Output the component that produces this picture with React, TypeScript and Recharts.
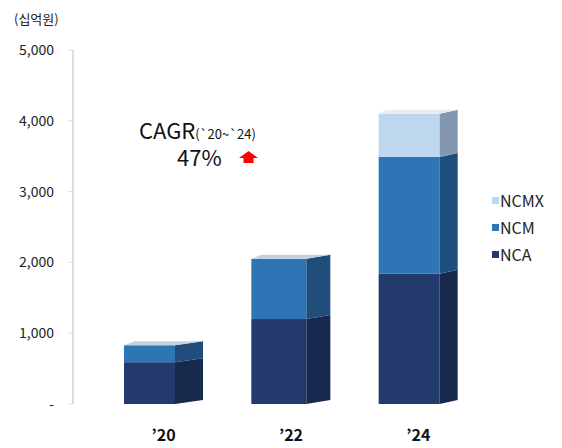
import React from "react";
import { BarChart, Bar, XAxis, YAxis } from "recharts";

// 연도별 양극재 출하 (십억원)
const years = ["’20", "’22", "’24"];
const nca = [590, 1200, 1840];
const ncm = [240, 850, 1650];
const ncmx = [0, 0, 610];
const yTicks = [0, 1000, 2000, 3000, 4000, 5000];

const data = years.map((year, i) => ({ year, NCA: nca[i], NCM: ncm[i], NCMX: ncmx[i] }));

const FONT = "'Noto Sans CJK KR', 'Noto Sans', sans-serif";
const STACK = ["NCA", "NCM", "NCMX"];

// front / side / top colours of each stacked block
const FACES: Record<string, { front: string; side: string; top: string }> = {
  NCA: { front: "#223a6c", side: "#172a4d", top: "#9aa8bf" },
  NCM: { front: "#2e75b6", side: "#1f4e7d", top: "#c6d0dd" },
  NCMX: { front: "#bdd7ee", side: "#8497b0", top: "#e8eef5" },
};

// side depth per column, narrower further right
const DEPTH = [28, 24, 18];
const SLANT = 4;

const LEGEND = [
  { name: "NCMX", color: FACES.NCMX.front },
  { name: "NCM", color: FACES.NCM.front },
  { name: "NCA", color: FACES.NCA.front },
];

function Block(props: any) {
  const { x, y, width, height, index, dataKey, payload } = props;
  if (!height || height <= 0) return null;
  const d = DEPTH[index] ?? 22;
  const fw = width - d;
  const face = FACES[dataKey];
  const isTop = STACK.slice(STACK.indexOf(dataKey) + 1).every((k) => !payload[k]);
  return (
    <g>
      <rect x={x} y={y} width={fw} height={height} fill={face.front} />
      <polygon
        points={`${x + fw},${y} ${x + width},${y - SLANT} ${x + width},${y + height - SLANT} ${x + fw},${y + height}`}
        fill={face.side}
      />
      {isTop && (
        <polygon
          points={`${x},${y} ${x + fw},${y} ${x + width},${y - SLANT} ${x + d * 0.4},${y - SLANT}`}
          fill={face.top}
        />
      )}
    </g>
  );
}

export default function App() {
  return (
    <div style={{ position: "absolute", left: 0, top: 0, width: 562, height: 448, background: "#fff" }}>
      <BarChart width={562} height={448} data={data} margin={{ top: 50, right: 53, bottom: 0, left: 0 }}>
        <YAxis
          domain={[0, 5000]}
          ticks={yTicks}
          width={73}
          axisLine={{ stroke: "#dcdcdc", strokeWidth: 2 }}
          tickLine={{ stroke: "#dcdcdc" }}
          tickSize={5}
          tickMargin={14}
          tick={{ fontSize: 14, fill: "#222", fontFamily: FONT }}
          tickFormatter={(v: number) => (v === 0 ? "-" : v.toLocaleString("en-US"))}
        />
        <XAxis
          dataKey="year"
          height={44}
          axisLine={false}
          tickLine={false}
          tickSize={0}
          tickMargin={26}
          padding={{ left: 27, right: 27 }}
          tick={{ fontSize: 16, fontWeight: 700, fill: "#111", fontFamily: FONT }}
        />
        <Bar dataKey="NCA" stackId="a" barSize={79} fill={FACES.NCA.front} shape={<Block />} isAnimationActive={false} />
        <Bar dataKey="NCM" stackId="a" barSize={79} fill={FACES.NCM.front} shape={<Block />} isAnimationActive={false} />
        <Bar dataKey="NCMX" stackId="a" barSize={79} fill={FACES.NCMX.front} shape={<Block />} isAnimationActive={false} />
      </BarChart>
      <svg
        width={562}
        height={448}
        style={{ position: "absolute", left: 0, top: 0, pointerEvents: "none" }}
        fontFamily={FONT}
      >
        <text x={14} y={24} fontSize={13} fill="#222">(십억원)</text>
        <text x={139} y={139} fontSize={22} fill="#111">
          CAGR
          <tspan fontSize={13}>(`20~`24)</tspan>
        </text>
        <text x={177} y={166} fontSize={22} fill="#111">47%</text>
        <polygon points="248.5,151 258,158 253.5,158 253.5,163 243.5,163 243.5,158 239,158" fill="#ff0000" />
        {LEGEND.map((item, i) => (
          <g key={item.name}>
            <rect x={492} y={197 + i * 27} width={7} height={7} fill={item.color} />
            <text x={500} y={207 + i * 27} fontSize={16} fill="#222">{item.name}</text>
          </g>
        ))}
      </svg>
    </div>
  );
}
